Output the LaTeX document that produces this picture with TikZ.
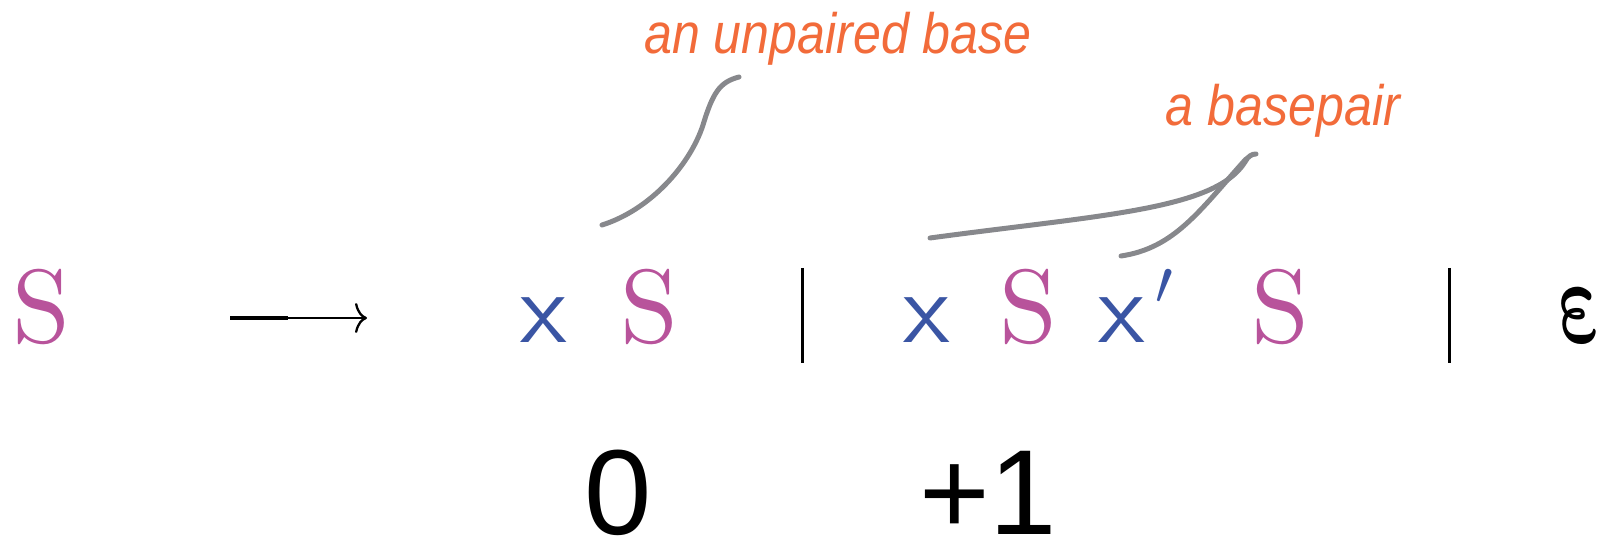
\documentclass[tikz,border=0pt]{standalone}
\usepackage{fontspec}
\usepackage{graphicx}
\newfontfamily\arialf{Liberation Sans}
\usetikzlibrary{arrows.meta}
\definecolor{magS}{HTML}{B8539B}
\definecolor{bluex}{HTML}{3A55A4}
\definecolor{orangel}{HTML}{F26B3A}
\definecolor{grayc}{HTML}{87888C}
\newcommand{\bigS}{\scalebox{10.4}{\fontsize{10}{12}\selectfont S}}
\newcommand{\bigx}{\scalebox{10.1}{\fontsize{10}{12}\selectfont\sffamily x}}
\begin{document}
\begin{tikzpicture}[x=1pt,y=1pt,
  symS/.style={text=magS, inner sep=0pt, anchor=base},
  symx/.style={text=bluex, inner sep=0pt, anchor=base},
  lbl/.style={text=orangel, font=\arialf\itshape\fontsize{57}{57}\selectfont, inner sep=0pt, anchor=base},
  num/.style={font=\arialf\fontsize{121}{121}\selectfont, inner sep=0pt, anchor=base},
  brush/.style={draw=grayc, line width=5pt, line cap=round},
  barline/.style={line width=3pt}]
\useasboundingbox (0,0) rectangle (1606,540);
% grammar row
\node[symS] (S0) at (41,197) {\bigS};
\coordinate (a0) at (230,222);
\coordinate (a1) at (288,222);
\coordinate (a2) at (367,222);
\draw[line width=4.5pt] (a0) -- (a1);
\draw[line width=2.3pt,-{To[length=12pt,width=30pt]}] (a1) -- (a2);
\node[symx] (x1) at (544,197) {\bigx};
\node[symS] (S1) at (649,197) {\bigS};
\coordinate (b1t) at (802,272);
\coordinate (b1b) at (802,177);
\draw[barline] (b1t) -- (b1b);
\node[symx] (x2) at (927,197) {\bigx};
\node[symS] (S2) at (1028,197) {\bigS};
\node[symx] (x3) at (1122,197) {\bigx};
\node[text=bluex, inner sep=0pt] (pr) at (1164,253) {\scalebox{6.3}{$\prime$}};
\node[symS] (S3) at (1280,197) {\bigS};
\coordinate (b2t) at (1449,272);
\coordinate (b2b) at (1449,177);
\draw[barline] (b2t) -- (b2b);
\begin{scope}[shift={(1585,197)}, xslant=-0.22]
\node[inner sep=0pt, anchor=base, transform shape] (eps) at (0,0) {\scalebox{8}[12]{\boldmath$\varepsilon$}};
\end{scope}
% numbers
\node[num] (n0) at (618,5) {0};
\node[num] (n1) at (988,5) {+1};
% labels
\node[lbl] (L1) at (838,486) {\scalebox{0.88}[1]{an unpaired base}};
\node[lbl] (L2) at (1283,414) {\scalebox{0.88}[1]{a basepair}};
% brush strokes
\coordinate (c1a) at (602,315);
\coordinate (c1b) at (739,463);
\draw[brush] (c1a) .. controls (650,330) and (690,375) .. (703,415) .. controls (713,448) and (720,458) .. (c1b);
\coordinate (c2a) at (930,302);
\coordinate (c2b) at (1256,386);
\draw[brush] (c2a) .. controls (1100,325) and (1215,330) .. (1245,378) .. controls (1248,384) and (1252,386) .. (c2b);
\coordinate (c3a) at (1121,284);
\draw[brush] (c3a) .. controls (1175,292) and (1200,330) .. (1246,381);
\end{tikzpicture}
\end{document}
